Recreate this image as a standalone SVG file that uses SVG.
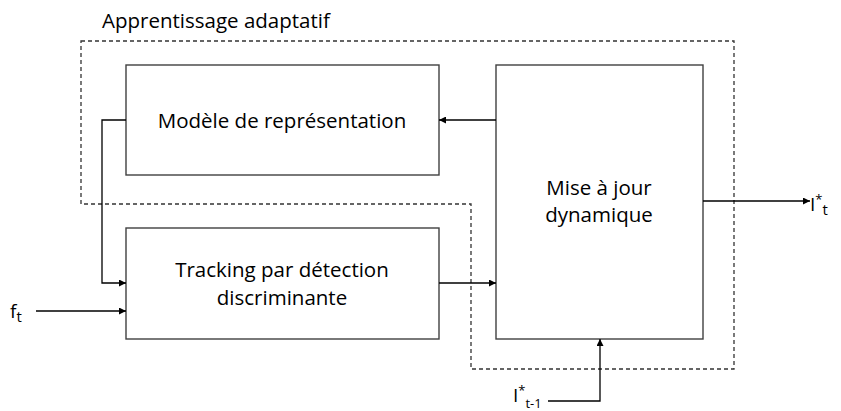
<svg xmlns="http://www.w3.org/2000/svg" width="841" height="411" viewBox="0 0 841 411">
<style>
.box{fill:#fff;stroke:#404040;stroke-width:1.4}
.t{font-family:"Open Sans","Liberation Sans",sans-serif;font-size:20.5px;fill:#000;text-anchor:middle}
.l{font-family:"Open Sans","Liberation Sans",sans-serif;font-size:20.5px;fill:#000}
.s{font-family:"Open Sans","Liberation Sans",sans-serif;font-size:19px;fill:#000}
.c{fill:none;stroke:#000;stroke-width:1.3}
.d{fill:none;stroke:#333;stroke-width:1.3;stroke-dasharray:4 3}
</style>
<defs>
<marker id="a" viewBox="0 0 10 10" refX="10" refY="5" markerWidth="9" markerHeight="7" markerUnits="userSpaceOnUse" orient="auto">
<path d="M0,0 L10,5 L0,10 z" fill="#000"/>
</marker>
</defs>
<rect width="841" height="411" fill="#fff"/>
<g id="region">
<path class="d" d="M81,41 H734 V369 H471 V204 H81 Z"/>
<text class="l" x="102" y="28">Apprentissage adaptatif</text>
</g>
<g id="modele">
<rect class="box" x="126" y="65" width="313" height="110"/>
<text class="t" x="282" y="128">Modèle de représentation</text>
</g>
<g id="tracking">
<rect class="box" x="126" y="228" width="313" height="111"/>
<text class="t" x="282" y="277">Tracking par détection</text>
<text class="t" x="282" y="305">discriminante</text>
</g>
<g id="miseajour">
<rect class="box" x="496" y="65" width="207" height="274"/>
<text class="t" x="599" y="195">Mise à jour</text>
<text class="t" x="599" y="222">dynamique</text>
</g>
<g id="labels">
<text class="s" x="10" y="318">f<tspan font-size="15" dy="4">t</tspan></text>
<text class="s" x="810" y="211">I<tspan font-size="13" dy="-7">*</tspan><tspan font-size="15" dy="11">t</tspan></text>
<text class="s" x="513" y="402">I<tspan font-size="13" dy="-7">*</tspan><tspan font-size="13" dy="13">t-1</tspan></text>
</g>
<g id="connectors">
<path class="c" d="M126,120 H102 V283 H126" marker-end="url(#a)"/>
<path class="c" d="M36,311 H126" marker-end="url(#a)"/>
<path class="c" d="M439,283 H496" marker-end="url(#a)"/>
<path class="c" d="M496,120 H439" marker-end="url(#a)"/>
<path class="c" d="M703,201 H810" marker-end="url(#a)"/>
<path class="c" d="M548,401 H600 V339" marker-end="url(#a)"/>
</g>
</svg>
